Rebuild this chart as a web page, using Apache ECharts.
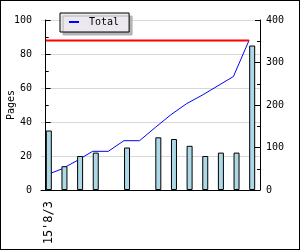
<!DOCTYPE html>
<html>
<head>
<meta charset="utf-8">
<script src="https://cdn.jsdelivr.net/npm/echarts@6/dist/echarts.min.js"></script>
<style>
html,body{margin:0;padding:0;background:#fff;}
#frame{position:absolute;left:0;top:0;width:300px;height:250px;box-sizing:border-box;border:1px solid #000;}
#chart{position:absolute;left:0;top:0;width:300px;height:250px;}
</style>
</head>
<body>
<div id="frame"></div>
<div id="chart"></div>
<script>
// ---- data ----
const categories = ["15'8/3", '', '', '', '', '', '', '', '', '', '', '', '', ''];
const pages = [35, 14, 20, 22, 0, 25, 0, 31, 30, 26, 20, 22, 22, 85];
const leftTicks = [0, 20, 40, 60, 80, 100];
const rightTicks = [0, 100, 200, 300, 400];
const seriesName = 'Total';

// cumulative total (right axis)
const cumulative = [];
pages.reduce((acc, v, i) => { cumulative[i] = acc + v; return acc + v; }, 0);
const total = cumulative[cumulative.length - 1];

const font = 'DejaVu Sans Mono';
const barOffset = 0.2; // line points sit at bar left edges

const chart = echarts.init(document.getElementById('chart'), null, {renderer: 'canvas'});
chart.setOption({
  animation: false,
  backgroundColor: 'transparent',
  grid: {left: 41, right: 40, top: 20, bottom: 60, containLabel: false, outerBoundsMode: 'none'},
  legend: {
    data: [{name: seriesName, icon: 'rect'}],
    left: 60, top: 13,
    itemWidth: 10, itemHeight: 2,
    padding: [4, 10, 5, 9],
    backgroundColor: '#ebe9ef',
    borderColor: '#000', borderWidth: 1,
    shadowColor: '#b4b4b4', shadowBlur: 0, shadowOffsetX: 3, shadowOffsetY: 3,
    textStyle: {fontFamily: font, fontSize: 10, color: '#000', padding: [0, 0, 0, 5]}
  },
  xAxis: [{
    type: 'category', data: categories, boundaryGap: true,
    axisLine: {lineStyle: {color: '#000', width: 1}},
    axisTick: {inside: true, length: 5, lineStyle: {color: '#000'}},
    axisLabel: {interval: 0, rotate: 90, margin: 11, fontFamily: font, fontSize: 12, color: '#000'},
    splitLine: {show: false}
  }, {
    type: 'value', show: false,
    min: -0.5 + barOffset, max: categories.length - 0.5 + barOffset
  }],
  yAxis: [{
    type: 'value', min: leftTicks[0], max: leftTicks[leftTicks.length - 1], interval: 20,
    name: 'Pages', nameLocation: 'middle', nameGap: 25, nameRotate: 90, nameMoveOverlap: false,
    nameTextStyle: {fontFamily: font, fontSize: 10, color: '#000'},
    axisLine: {show: true, lineStyle: {color: '#000'}},
    axisTick: {show: true, inside: true, length: 5, lineStyle: {color: '#000'}},
    minorTick: {show: true, splitNumber: 2, length: 3, lineStyle: {color: '#000'}},
    axisLabel: {margin: 9, fontFamily: font, fontSize: 10, color: '#000'},
    splitLine: {show: true, lineStyle: {color: '#d8d8d8', width: 1}}
  }, {
    type: 'value', min: rightTicks[0], max: rightTicks[rightTicks.length - 1], interval: 100,
    position: 'right',
    axisLine: {show: true, lineStyle: {color: '#000'}},
    axisTick: {show: true, inside: true, length: 5, lineStyle: {color: '#000'}},
    minorTick: {show: true, splitNumber: 2, length: 3, lineStyle: {color: '#000'}},
    axisLabel: {margin: 6, fontFamily: font, fontSize: 10, color: '#000'},
    splitLine: {show: false}
  }],
  series: [{
    name: 'Pages', type: 'bar', xAxisIndex: 0, yAxisIndex: 0,
    data: pages.map(v => v === 0 ? null : v),
    barWidth: 6, z: 3,
    itemStyle: {color: '#add8e6', borderColor: '#000', borderWidth: 1}
  }, {
    name: seriesName, type: 'line', xAxisIndex: 1, yAxisIndex: 1,
    data: cumulative.map((v, i) => [i, v]),
    showSymbol: false, symbol: 'none', z: 1,
    lineStyle: {color: '#0000ff', width: 1}, itemStyle: {color: '#0000ff'}
  }, {
    name: 'Goal', type: 'line', xAxisIndex: 1, yAxisIndex: 1,
    data: [[0, total], [categories.length - 1, total]],
    showSymbol: false, symbol: 'none', z: 2,
    lineStyle: {color: '#ff0000', width: 2}
  }]
});
</script>
</body>
</html>
